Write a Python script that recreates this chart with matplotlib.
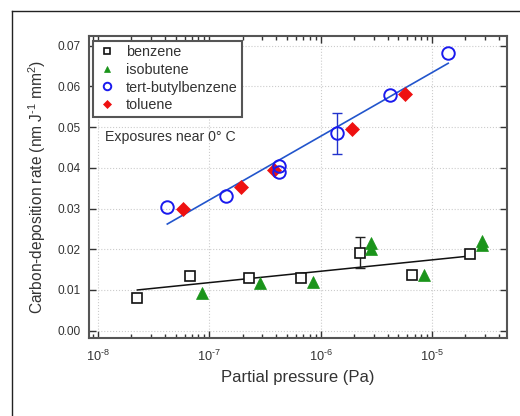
import numpy as np
import matplotlib
matplotlib.use("Agg")
import matplotlib.pyplot as plt
from matplotlib.lines import Line2D
from matplotlib.ticker import LogLocator, FixedLocator, FormatStrFormatter

plt.rcParams['font.family'] = ['Liberation Sans', 'DejaVu Sans']
plt.rcParams['mathtext.fontset'] = 'custom'
plt.rcParams['mathtext.rm'] = 'Liberation Sans'
plt.rcParams['mathtext.it'] = 'Liberation Sans:italic'
plt.rcParams['mathtext.bf'] = 'Liberation Sans:bold'

# ---- data ----
benzene_x = [2.26e-8, 6.7e-8, 2.28e-7, 6.7e-7, 2.24e-6, 6.67e-6, 2.2e-5]
benzene_y = [0.0080, 0.0135, 0.0130, 0.0130, 0.0192, 0.0136, 0.0189]
benzene_err = [0, 0, 0, 0, 0.0038, 0, 0]

isobutene_x = [8.55e-8, 2.83e-7, 8.5e-7, 2.83e-6, 2.83e-6, 8.42e-6, 2.82e-5, 2.82e-5]
isobutene_y = [0.0093, 0.0118, 0.0120, 0.0215, 0.0201, 0.0137, 0.0221, 0.0211]

tbb_x = [4.2e-8, 1.41e-7, 4.25e-7, 4.25e-7, 1.4e-6, 4.17e-6, 1.4e-5]
tbb_y = [0.0303, 0.0331, 0.0405, 0.0391, 0.0485, 0.0579, 0.0682]
tbb_err = [0, 0, 0, 0, 0.0050, 0, 0]

toluene_x = [5.78e-8, 1.92e-7, 3.85e-7, 1.91e-6, 5.69e-6]
toluene_y = [0.0298, 0.0354, 0.0395, 0.0496, 0.0582]

# fitted lines (log-linear), end points
fit_low_range = [2.26e-8, 2.2e-5]
fit_low_y = [0.0100, 0.01835]
fit_high_range = [4.2e-8, 1.4e-5]
fit_high_y = [0.0262, 0.0657]

xtick_vals = [1e-8, 1e-7, 1e-6, 1e-5]
xtick_labels = ['10$^{\u20108}$', '10$^{\u20107}$', '10$^{\u20106}$', '10$^{\u20105}$']
ytick_vals = [0.00, 0.01, 0.02, 0.03, 0.04, 0.05, 0.06, 0.07]

# ---- figure ----
fig = plt.figure(figsize=(5.2, 4.16), dpi=100)
ax = fig.add_axes([89/520, 1-338/416, (507-89)/520, (338-36)/416])

# outer frame (left and top lines)
fig.add_artist(Line2D([12/520, 12/520], [0, 1-11/416], color='#222222', lw=1.0))
fig.add_artist(Line2D([12/520, 1], [1-11/416, 1-11/416], color='#222222', lw=1.0))

tc = '#333333'
ax.set_xscale('log')
ax.set_xlim(10**-8.08, 10**-4.326)
ax.set_ylim(-0.0018, 0.0724)

ax.grid(True, which='major', color='#cccccc', linestyle=':', linewidth=0.8)
ax.set_axisbelow(True)

ax.plot(fit_low_range, fit_low_y, color='#111111', lw=1.1, zorder=2)
ax.plot(fit_high_range, fit_high_y, color='#2255cc', lw=1.2, zorder=2)

# error bars
bi = [i for i, e in enumerate(benzene_err) if e > 0]
ax.errorbar([benzene_x[i] for i in bi], [benzene_y[i] for i in bi],
            yerr=[benzene_err[i] for i in bi], fmt='none', ecolor='#222222',
            elinewidth=1.0, capsize=3.5, zorder=3)
ti = [i for i, e in enumerate(tbb_err) if e > 0]
ax.errorbar([tbb_x[i] for i in ti], [tbb_y[i] for i in ti],
            yerr=[tbb_err[i] for i in ti], fmt='none', ecolor='#2233cc',
            elinewidth=1.0, capsize=3.5, zorder=3)

ax.plot(benzene_x, benzene_y, 's', ms=7.5, mfc='white', mec='#111111', mew=1.2,
        label='benzene', zorder=4)
ax.plot(isobutene_x, isobutene_y, '^', ms=8, mfc='#1a941a', mec='#1a941a', mew=0.5,
        label='isobutene', zorder=4)
ax.plot(tbb_x, tbb_y, 'o', ms=9, mfc='none', mec='#1a1aee', mew=1.4,
        label='tert-butylbenzene', zorder=5)
ax.plot(toluene_x, toluene_y, 'D', ms=7, mfc='#ee1111', mec='#ee1111', mew=0.5,
        label='toluene', zorder=4)

# ticks
ax.xaxis.set_major_locator(FixedLocator(xtick_vals))
ax.set_xticklabels(xtick_labels)
ax.xaxis.set_minor_locator(LogLocator(base=10, subs=np.arange(2, 10), numticks=20))
ax.yaxis.set_major_locator(FixedLocator(ytick_vals))
ax.yaxis.set_major_formatter(FormatStrFormatter('%.2f'))
ax.tick_params(which='both', direction='in', top=True, right=True, colors=tc,
               labelcolor=tc, labelsize=8.6, width=1.0)
ax.tick_params(axis='x', labelsize=9.2)
ax.tick_params(which='major', length=5)
ax.tick_params(which='minor', length=3)
ax.tick_params(axis='x', pad=8)
ax.tick_params(axis='y', pad=6)
for s in ax.spines.values():
    s.set_color('#555555')
    s.set_linewidth(1.5)

ax.set_xlabel('Partial pressure (Pa)', fontsize=12, color=tc, labelpad=4)
ax.set_ylabel('Carbon-deposition rate (nm J$^{\u20101}$ mm$^{2}$)', fontsize=11.2,
              color=tc, labelpad=7)

leg = ax.legend(loc='upper left', bbox_to_anchor=(4/418, 1-5/302), fontsize=10.4,
                frameon=True, fancybox=False, handlelength=1.4, handletextpad=0.6,
                borderpad=0.3, labelspacing=0.25, borderaxespad=0.0, markerscale=0.6)
leg.get_frame().set_edgecolor('#555555')
leg.get_frame().set_linewidth(1.5)
leg.get_frame().set_alpha(1)
for t in leg.get_texts():
    t.set_color(tc)

ax.text(16/418, 1-101/302, 'Exposures near 0° C', transform=ax.transAxes,
        fontsize=10.2, color=tc, va='center', ha='left')

fig.savefig('out.png', dpi=100)
